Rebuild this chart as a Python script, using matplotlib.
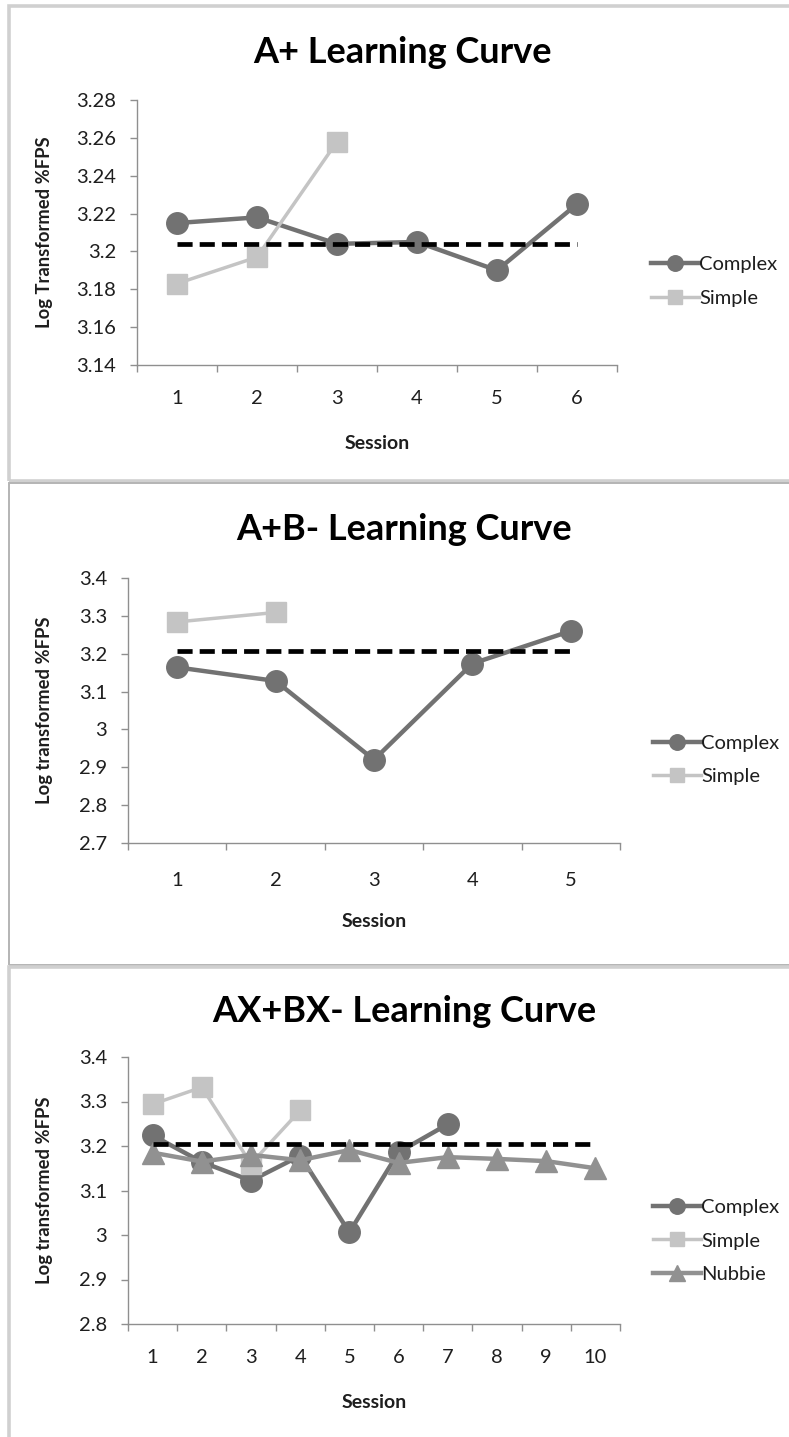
import matplotlib
matplotlib.use("Agg")
import matplotlib.pyplot as plt
from matplotlib.patches import Rectangle
import numpy as np

plt.rcParams["font.family"] = ["Lato", "DejaVu Sans"]

W, H = 789, 1437  # figure size in pixels (dpi 100)

# ── A+ phase ───────────────────────────────────────────────────────────────
sessions_a = [1, 2, 3, 4, 5, 6]
complex_a = [3.215, 3.218, 3.204, 3.205, 3.190, 3.225]
simple_a = [3.183, 3.197, 3.258]
criterion_a = 3.204
yticks_a = [3.14, 3.16, 3.18, 3.20, 3.22, 3.24, 3.26, 3.28]

# ── A+B- phase ─────────────────────────────────────────────────────────────
sessions_ab = [1, 2, 3, 4, 5]
complex_ab = [3.164, 3.128, 2.920, 3.174, 3.260]
simple_ab = [3.284, 3.309]
criterion_ab = 3.206
yticks_ab = [2.7, 2.8, 2.9, 3.0, 3.1, 3.2, 3.3, 3.4]

# ── AX+BX- phase ───────────────────────────────────────────────────────────
sessions_ax = [1, 2, 3, 4, 5, 6, 7, 8, 9, 10]
complex_ax = [3.224, 3.164, 3.122, 3.178, 3.006, 3.186, 3.249]
simple_ax = [3.294, 3.332, 3.160, 3.280]
nubbie_ax = [3.185, 3.165, 3.180, 3.168, 3.191, 3.162, 3.175, 3.171, 3.166, 3.150]
criterion_ax = 3.204
yticks_ax = [2.8, 2.9, 3.0, 3.1, 3.2, 3.3, 3.4]

# series styles (Excel-like greys)
STYLE = {
    "Complex": dict(color="#727272", marker="o", lw=3.2, ms=15.5),
    "Simple": dict(color="#c4c4c4", marker="s", lw=2.5, ms=14.5),
    "Nubbie": dict(color="#919191", marker="^", lw=3.2, ms=15.5),
}
AXIS_GREY = "#8f8f8f"
TEXT = "#1e1e1e"


def px_box(x0, x1, ytop, ybot):
    """pixel box -> figure fraction [left, bottom, width, height]"""
    return [x0 / W, 1 - ybot / H, (x1 - x0) / W, (ybot - ytop) / H]


def draw_frame(fig, ytop, ybot, x0, color, lw):
    fig.add_artist(Rectangle((x0 / W, 1 - ybot / H), (W + 20 - x0) / W, (ybot - ytop) / H,
                             transform=fig.transFigure, fill=False,
                             edgecolor=color, linewidth=lw, clip_on=False))


def draw_panel(fig, box, title, title_xy, ylabel, ylabel_x, sessions, series,
               criterion, yticks, xpad, legend_anchor):
    ax = fig.add_axes(px_box(*box))
    n = len(sessions)

    for name, values in series:
        st = STYLE[name]
        ax.plot(sessions[:len(values)], values, color=st["color"], lw=st["lw"],
                marker=st["marker"], ms=st["ms"], mec=st["color"], mfc=st["color"],
                label=name, zorder=3, solid_joinstyle="round")

    # criterion line across all sessions
    ax.plot([sessions[0], sessions[-1]], [criterion, criterion], color="black",
            lw=3.4, dashes=(3.2, 1.5), zorder=5)

    ax.set_xlim(0.5, n + 0.5)
    ax.set_ylim(yticks[0], yticks[-1])

    # category axis: tick marks between sessions, labels centred
    ax.set_xticks(np.arange(0.5, n + 1.0, 1.0))
    ax.set_xticklabels([])
    ax.set_xticks(sessions, minor=True)
    ax.set_xticklabels([str(s) for s in sessions], minor=True)
    ax.tick_params(axis="x", which="major", direction="out", length=5, width=1,
                   color=AXIS_GREY)
    ax.tick_params(axis="x", which="minor", length=0, pad=xpad, labelsize=14.5,
                   labelcolor=TEXT)

    ax.set_yticks(yticks)
    ax.set_yticklabels([f"{t:g}" for t in np.round(yticks, 2)])
    ax.tick_params(axis="y", direction="out", length=5, width=1, color=AXIS_GREY,
                   pad=10, labelsize=14.5, labelcolor=TEXT)

    for side in ("top", "right"):
        ax.spines[side].set_visible(False)
    for side in ("left", "bottom"):
        ax.spines[side].set_color(AXIS_GREY)
        ax.spines[side].set_linewidth(1)

    ax.set_ylabel(ylabel, fontsize=13.2, fontweight="bold", color=TEXT)
    ax.yaxis.set_label_coords(ylabel_x, 0.5)
    ax.set_xlabel("Session", fontsize=14, fontweight="bold", color=TEXT)
    ax.xaxis.label.set_verticalalignment("center")
    ax.xaxis.set_label_coords(0.5, -0.295)

    leg = ax.legend(loc="center left", bbox_to_anchor=legend_anchor, frameon=False,
                    fontsize=14.5, handlelength=2.4, handletextpad=0.0,
                    borderpad=0, borderaxespad=0, labelspacing=0.82, markerscale=0.72)
    for t in leg.get_texts():
        t.set_color(TEXT)

    fig.text(title_xy[0] / W, 1 - title_xy[1] / H, title, ha="center",
             va="baseline", fontsize=26, fontweight="bold", color="black")
    return ax


fig = plt.figure(figsize=(W / 100, H / 100), dpi=100)

# panel frames
draw_frame(fig, 6, 481, 9, "#d0d0d0", 2.6)
draw_frame(fig, 483, 965, 8.5, "#b4b4b4", 1.4)
draw_frame(fig, 967, H + 10, 9, "#d0d0d0", 2.6)

draw_panel(fig, (137, 617, 100, 365), "A+ Learning Curve", (402, 63),
           "Log Transformed %FPS", -0.175, sessions_a,
           [("Complex", complex_a), ("Simple", simple_a)],
           criterion_a, yticks_a, 18, (1.071, 0.315))

draw_panel(fig, (128, 620, 578, 843), "A+B- Learning Curve", (404, 540),
           "Log transformed %FPS", -0.152, sessions_ab,
           [("Complex", complex_ab), ("Simple", simple_ab)],
           criterion_ab, yticks_ab, 21, (1.067, 0.313))

draw_panel(fig, (128, 620, 1057, 1324), "AX+BX- Learning Curve", (404, 1022),
           "Log transformed %FPS", -0.152, sessions_ax,
           [("Complex", complex_ax), ("Simple", simple_ax), ("Nubbie", nubbie_ax)],
           criterion_ax, yticks_ax, 18, (1.067, 0.311))

fig.savefig("out.png", dpi=100)
